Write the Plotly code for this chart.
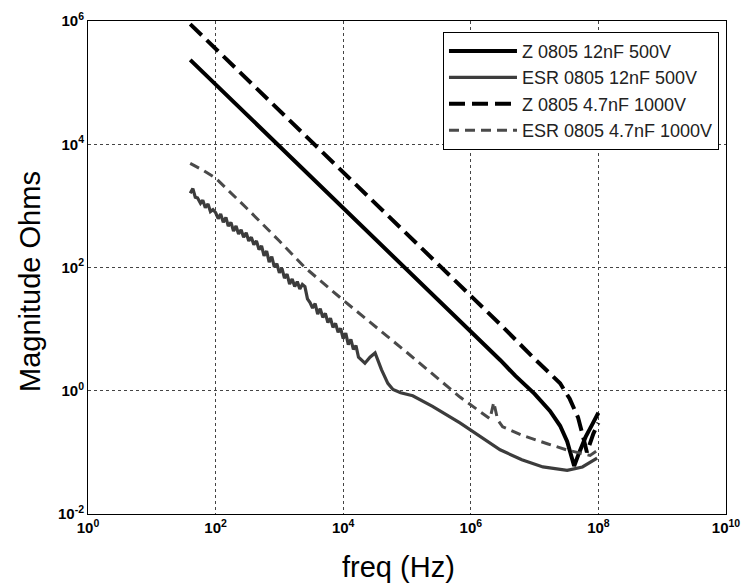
import plotly.graph_objects as go

# ---- data (Hz, Ohms) ----
z12_freq = [40, 1000, 1e5, 1e6, 2.88e6, 5.01e6, 1e7, 1.74e7, 2.51e7, 3.24e7, 3.80e7, 4.17e7, 5.01e7, 6.31e7, 7.94e7, 1e8]
z12_ohm = [234000, 9330, 93, 9.5, 3.16, 1.74, 0.89, 0.47, 0.27, 0.15, 0.079, 0.060, 0.10, 0.178, 0.28, 0.44]

esr12_freq = [40, 44, 48, 52, 58, 63, 69, 76, 83, 91,
              100, 110, 120, 132, 145, 158, 174, 191, 209, 229,
              251, 275, 302, 331, 363, 398, 437, 479, 525, 575,
              631, 692, 759, 832, 912, 1000, 1096, 1202, 1318, 1445,
              1585, 1738, 1905, 2089, 2291, 2512, 2754, 3020, 3311, 3631,
              3981, 4365, 4786, 5248, 5754, 6310, 6918, 7586, 8318, 9120,
              10000, 10965, 12023, 13183, 14454, 15849, 17378, 19055,
              21900, 26300, 31600, 39800, 50100, 60300, 79400, 123000, 251000, 676000,
              1.58e6, 2.88e6, 6.31e6, 1.35e7, 3.24e7, 5.62e7, 9.55e7]
esr12_ohm = [1600, 1905, 1380, 1350, 1100, 1230, 935, 1070, 810, 870,
             780, 620, 740, 540, 650, 470, 540, 390, 470, 350,
             410, 310, 365, 270, 310, 235, 270, 195, 225, 155,
             185, 122, 150, 102, 115, 82, 97, 67, 78, 54,
             65, 49, 59, 45, 53, 49, 31, 27, 22, 26,
             17.5, 21.5, 15.5, 18, 12.8, 15, 10.7, 12.4, 8.9, 10.3,
             7.0, 8.6, 5.6, 6.8, 4.7, 5.4, 3.5, 3.2,
             2.8, 3.5, 4.1, 2.2, 1.32, 1.05, 0.93, 0.83, 0.56, 0.30,
             0.166, 0.110, 0.076, 0.058, 0.051, 0.058, 0.081]

z47_freq = [40, 1e4, 1e5, 1e6, 2.88e6, 1e7, 1.58e7, 2.51e7, 3.55e7, 4.79e7, 5.75e7, 6.61e7, 8.32e7, 1e8]
z47_ohm = [891000, 3550, 360, 35.5, 12.0, 3.3, 2.14, 1.32, 0.74, 0.37, 0.18, 0.10, 0.20, 0.30]

esr47_freq = [40, 63, 100, 316, 1000, 2512, 1e4, 1e5, 6.76e5, 1.58e6, 2.0e6, 2.29e6, 2.63e6,
              3.16e6, 6.31e6, 1.58e7, 3.16e7, 7.41e7, 9.33e7]
esr47_ohm = [4900, 3800, 2820, 891, 269, 100, 29.5, 4.17, 0.79, 0.42, 0.35, 0.65, 0.34,
             0.26, 0.19, 0.138, 0.11, 0.089, 0.105]

x_tickvals = [1, 1e2, 1e4, 1e6, 1e8, 1e10]
x_ticktext = ["10<sup>0</sup>", "10<sup>2</sup>", "10<sup>4</sup>", "10<sup>6</sup>", "10<sup>8</sup>", "10<sup>10</sup>"]
y_tickvals = [1e-2, 1, 1e2, 1e4, 1e6]
y_ticktext = ["10<sup>-2</sup>", "10<sup>0</sup>", "10<sup>2</sup>", "10<sup>4</sup>", "10<sup>6</sup>"]

names = ["Z 0805 12nF 500V", "ESR 0805 12nF 500V", "Z 0805 4.7nF 1000V", "ESR 0805 4.7nF 1000V"]
x_title = "freq (Hz)"
y_title = "Magnitude Ohms"

FONT = "Arial, Liberation Sans, sans-serif"

fig = go.Figure()
fig.add_trace(go.Scatter(x=z12_freq, y=z12_ohm, mode="lines", name=names[0],
                         line=dict(color="#000000", width=4)))
fig.add_trace(go.Scatter(x=esr12_freq, y=esr12_ohm, mode="lines", name=names[1],
                         line=dict(color="#3c3c3c", width=3.2)))
fig.add_trace(go.Scatter(x=z47_freq, y=z47_ohm, mode="lines", name=names[2],
                         line=dict(color="#000000", width=4, dash="16px,7px")))
fig.add_trace(go.Scatter(x=esr47_freq, y=esr47_ohm, mode="lines", name=names[3],
                         line=dict(color="#4a4a4a", width=3, dash="10px,6px")))

fig.update_layout(
    width=744, height=586,
    margin=dict(l=88, r=18, t=21, b=72),
    paper_bgcolor="white", plot_bgcolor="white",
    font=dict(family=FONT, color="#000000"),
    showlegend=True,
    legend=dict(x=0.989, y=0.978, xanchor="right", yanchor="top",
                bgcolor="white", bordercolor="#000000", borderwidth=1,
                font=dict(size=18, color="#222222", family=FONT),
                itemwidth=68, traceorder="normal"),
    annotations=[
        dict(text=x_title, xref="paper", yref="paper", x=0.486, y=-0.1075,
             xanchor="center", yanchor="middle", showarrow=False,
             font=dict(size=29, family=FONT, color="#000000")),
        dict(text=y_title, xref="paper", yref="paper", x=-0.091, y=0.4726,
             xanchor="center", yanchor="middle", showarrow=False, textangle=-90,
             font=dict(size=29, family=FONT, color="#000000")),
    ],
)
fig.update_xaxes(type="log", range=[0, 10], tickvals=x_tickvals, ticktext=x_ticktext,
                 tickfont=dict(size=15, family=FONT, weight="bold"),
                 ticklabeloverflow="allow", automargin=False,
                 showgrid=True, gridcolor="#444444", griddash="dot", gridwidth=1,
                 showline=True, linecolor="#000000", linewidth=1, mirror=True,
                 zeroline=False, ticks="")
fig.update_yaxes(type="log", range=[-2, 6], tickvals=y_tickvals, ticktext=y_ticktext,
                 tickfont=dict(size=15, family=FONT, weight="bold"),
                 automargin=False,
                 showgrid=True, gridcolor="#444444", griddash="dot", gridwidth=1,
                 showline=True, linecolor="#000000", linewidth=1, mirror=True,
                 zeroline=False, ticks="")

fig.write_html("out.html", config={"displayModeBar": False},
               post_script="document.body.style.margin='0px';document.body.style.overflow='hidden';")
